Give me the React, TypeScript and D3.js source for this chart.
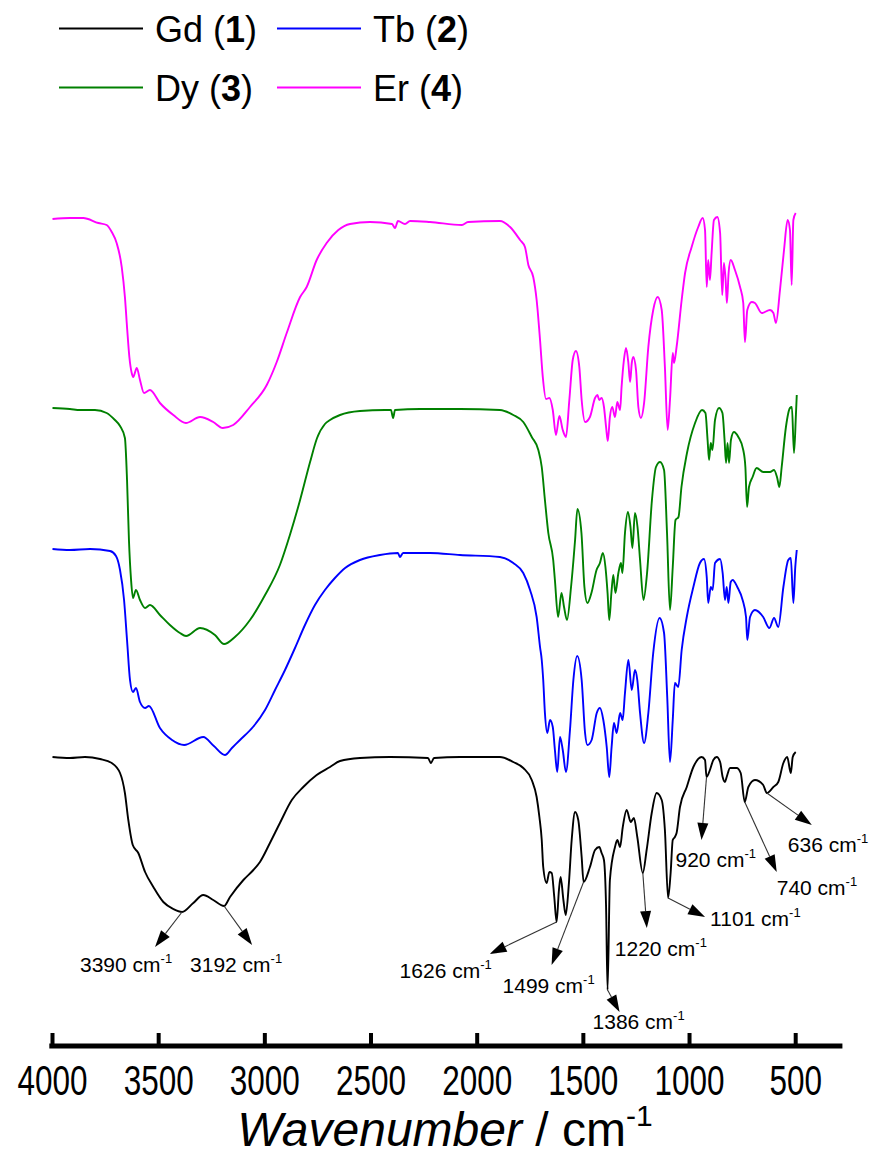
import React from 'react';
import * as d3 from 'd3';

// FT-IR spectra of the four lanthanide complexes, stacked (transmittance, a.u.)
// Each entry: [wavenumber in cm^-1, stacked transmittance]
const gdSpectrum: [number, number][] = [
  [4000,289],[3918,288],[3847,289],[3776,287],[3721,283],[3682,273],[3659,253],[3643,226],[3622,201],[3596,193],
  [3564,174],[3525,159],[3478,144],[3431,137],[3390,134],[3337,143],[3290,151],[3243,146],[3192,140],[3164,149],
  [3101,166],[3054,176],[3023,184],[2976,203],[2929,223],[2873,246],[2819,259],[2756,271],[2693,279],[2646,285],
  [2552,288],[2411,289],[2232,288],[2218,283],[2203,288],[2081,289],[1893,289],[1830,284],[1783,278],[1743,266],
  [1720,249],[1707,229],[1696,206],[1689,179],[1673,163],[1660,174],[1649,173],[1637,149],[1626,124],[1615,156],
  [1607,169],[1594,146],[1583,131],[1568,163],[1555,206],[1539,234],[1524,226],[1508,189],[1499,164],[1469,179],
  [1445,196],[1425,199],[1414,193],[1403,186],[1393,139],[1386,56],[1375,166],[1351,199],[1340,206],[1327,199],
  [1315,218],[1296,236],[1277,224],[1262,228],[1246,209],[1220,173],[1202,196],[1178,233],[1155,253],[1131,246],
  [1116,216],[1101,148],[1089,173],[1079,206],[1069,209],[1061,213],[1045,239],[1013,259],[982,279],[943,289],
  [927,286],[920,269],[904,276],[888,286],[872,289],[856,284],[844,269],[833,264],[825,269],[809,278],
  [778,278],[759,273],[740,244],[723,259],[692,266],[653,261],[636,253],[605,259],[582,264],[558,283],
  [540,289],[523,273],[514,289],[500,294],
];

const tbSpectrum: [number, number][] = [
  [4000,497],[3918,496],[3823,497],[3729,495],[3701,490],[3682,476],[3663,446],[3649,406],[3635,366],[3621,354],
  [3607,358],[3588,344],[3564,338],[3546,340],[3494,318],[3437,306],[3380,301],[3290,309],[3240,300],[3188,291],
  [3155,298],[3117,306],[3056,319],[2999,336],[2952,356],[2905,376],[2858,398],[2811,421],[2764,441],[2717,456],
  [2670,468],[2622,478],[2552,486],[2458,491],[2373,493],[2364,489],[2349,493],[2222,493],[2081,491],[1893,489],
  [1830,483],[1783,473],[1751,456],[1720,429],[1704,399],[1696,386],[1689,366],[1681,333],[1670,313],[1657,326],
  [1644,319],[1634,296],[1623,274],[1610,309],[1597,296],[1582,274],[1563,316],[1547,366],[1529,390],[1508,366],
  [1492,313],[1481,301],[1461,306],[1437,333],[1422,338],[1406,326],[1390,299],[1378,269],[1367,299],[1356,323],
  [1343,313],[1327,333],[1315,326],[1304,353],[1288,386],[1272,356],[1257,376],[1246,366],[1233,333],[1214,303],
  [1194,333],[1171,393],[1141,428],[1120,413],[1105,349],[1092,284],[1079,326],[1069,363],[1053,359],[1037,396],
  [1013,429],[982,459],[951,483],[932,487],[919,469],[912,443],[900,459],[891,456],[880,483],[856,487],
  [844,473],[833,446],[825,459],[817,443],[806,464],[797,466],[775,459],[750,446],[734,429],[728,406],
  [715,429],[692,436],[653,429],[624,418],[602,428],[582,419],[558,459],[535,486],[523,488],[511,443],
  [502,479],[495,496],
];

const dySpectrum: [number, number][] = [
  [4000,638],[3918,637],[3870,636],[3800,636],[3745,633],[3706,626],[3682,620],[3659,608],[3649,566],[3640,506],
  [3630,466],[3621,448],[3607,456],[3588,446],[3564,438],[3541,441],[3494,431],[3447,421],[3400,413],[3371,410],
  [3305,418],[3235,411],[3192,402],[3141,409],[3070,426],[2999,451],[2929,481],[2882,511],[2834,546],[2787,584],
  [2754,608],[2717,622],[2693,626],[2646,631],[2552,635],[2434,636],[2406,636],[2396,628],[2387,636],[2269,637],
  [2081,637],[1893,636],[1830,631],[1783,624],[1743,609],[1712,596],[1696,579],[1681,546],[1665,513],[1642,486],
  [1634,466],[1619,429],[1603,453],[1591,439],[1577,426],[1558,459],[1539,506],[1528,537],[1509,513],[1495,459],
  [1481,443],[1462,453],[1438,476],[1422,483],[1408,493],[1396,479],[1386,453],[1378,426],[1368,453],[1359,471],
  [1349,453],[1335,473],[1323,483],[1316,473],[1304,513],[1290,534],[1278,519],[1269,498],[1257,533],[1245,519],
  [1233,486],[1217,446],[1200,473],[1177,546],[1158,579],[1139,584],[1120,576],[1106,513],[1092,436],[1079,479],
  [1066,526],[1052,529],[1038,559],[1012,593],[974,623],[941,636],[925,633],[915,606],[908,586],[900,603],
  [892,596],[880,626],[861,638],[845,633],[835,606],[828,583],[821,603],[814,583],[805,606],[791,614],
  [770,609],[747,596],[737,579],[729,539],[720,559],[703,569],[684,578],[653,574],[621,574],[602,576],
  [587,568],[577,559],[566,579],[546,619],[527,638],[518,639],[508,593],[499,631],[495,651],
];

const erSpectrum: [number, number][] = [
  [4000,827],[3918,828],[3855,828],[3784,823],[3745,821],[3721,814],[3698,803],[3674,779],[3659,749],[3648,716],
  [3638,689],[3627,673],[3620,669],[3603,678],[3588,666],[3569,653],[3541,656],[3494,643],[3431,631],[3372,623],
  [3305,629],[3243,624],[3198,618],[3149,621],[3070,639],[2991,661],[2944,684],[2897,713],[2834,749],[2803,759],
  [2756,786],[2709,803],[2654,816],[2599,822],[2505,824],[2401,822],[2387,818],[2373,825],[2340,822],[2316,825],
  [2222,824],[2072,821],[2043,824],[1893,825],[1845,819],[1798,806],[1775,799],[1759,781],[1736,769],[1720,746],
  [1704,706],[1691,669],[1676,647],[1660,648],[1644,636],[1629,611],[1613,630],[1597,616],[1582,609],[1566,646],
  [1550,686],[1535,695],[1519,679],[1508,646],[1492,624],[1469,629],[1445,648],[1434,651],[1425,646],[1414,648],
  [1403,639],[1393,619],[1385,605],[1375,629],[1364,639],[1351,629],[1340,644],[1327,636],[1320,659],[1309,686],
  [1299,698],[1288,683],[1280,664],[1272,683],[1265,689],[1252,676],[1241,639],[1229,628],[1214,643],[1194,699],
  [1171,736],[1150,749],[1131,736],[1116,679],[1103,616],[1092,646],[1079,693],[1073,683],[1061,699],[1037,746],
  [1021,773],[990,799],[959,819],[938,828],[927,816],[919,759],[912,786],[904,766],[896,793],[885,826],
  [869,829],[856,813],[846,751],[838,783],[830,766],[824,743],[816,773],[806,786],[786,776],[762,759],
  [747,743],[739,704],[728,736],[707,744],[692,743],[660,733],[621,736],[605,733],[593,723],[574,756],
  [555,796],[538,826],[527,816],[519,761],[511,826],[500,833],
];

const seriesNames = ['Gd', 'Tb', 'Dy', 'Er'];
const seriesNumbers = ['1', '2', '3', '4'];
const seriesColors = ['#000000', '#0000ff', '#008000', '#ff00ff'];
const seriesData = [gdSpectrum, tbSpectrum, dySpectrum, erSpectrum];

const xTicks = [4000, 3500, 3000, 2500, 2000, 1500, 1000, 500];

// Band positions marked on the Gd spectrum
const bandPositions = [3390, 3192, 1626, 1499, 1386, 1220, 1101, 920, 740, 636];

// Arrow tip and label anchor offsets (px) from each band's point on the curve
const bandLayout: Record<number, { tip: [number, number]; label: [number, number] }> = {
  3390: { tip: [-27, 35], label: [-102, 60] },
  3192: { tip: [28, 39], label: [-34, 66] },
  1626: { tip: [-67, 32], label: [-157, 56] },
  1499: { tip: [-32, 83], label: [-81, 111] },
  1386: { tip: [12, 22], label: [-15, 39] },
  1220: { tip: [4, 55], label: [-28, 83] },
  1101: { tip: [37, 19], label: [42, 28] },
  920: { tip: [-5, 63], label: [-31, 90] },
  740: { tip: [32, 70], label: [32, 93] },
  636: { tip: [45, 32], label: [21, 59] },
};

const FONT = '"Liberation Sans", Arial, Helvetica, sans-serif';

export default function App() {
  const x = d3.scaleLinear().domain([4000, 500]).range([52.5, 795.7]);
  const y = d3.scaleLinear().domain([0, 850]).range([1046, 196]);
  const axisY = y(0);

  const line = d3
    .line<[number, number]>()
    .x((d) => x(d[0]))
    .y((d) => y(d[1]))
    .curve(d3.curveMonotoneX);

  const gdLookup = new Map(gdSpectrum.map((d) => [d[0], d[1]]));

  const arrows = bandPositions.map((wn) => {
    const sx = x(wn);
    const sy = y(gdLookup.get(wn) ?? 0);
    const lay = bandLayout[wn];
    const tx = sx + lay.tip[0];
    const ty = sy + lay.tip[1];
    const ang = Math.atan2(ty - sy, tx - sx);
    const headLen = 17;
    const headHalf = 5.5;
    const bx = tx - headLen * Math.cos(ang);
    const by = ty - headLen * Math.sin(ang);
    const px = -Math.sin(ang) * headHalf;
    const py = Math.cos(ang) * headHalf;
    return {
      wn,
      sx,
      sy,
      bx,
      by,
      head: `M${tx},${ty}L${bx + px},${by + py}L${bx - px},${by - py}Z`,
      lx: sx + lay.label[0],
      ly: sy + lay.label[1],
    };
  });

  return (
    <svg
      width={880}
      height={1156}
      viewBox="0 0 880 1156"
      style={{ position: 'absolute', left: 0, top: 0, display: 'block', background: '#fff' }}
      fontFamily={FONT}
    >
      <rect x={0} y={0} width={880} height={1156} fill="#fff" />

      {/* legend */}
      {seriesNames.map((name, i) => {
        const col = i % 2;
        const row = Math.floor(i / 2);
        const lx = 59 + col * 218;
        const ly = 28.5 + row * 59;
        return (
          <g key={name}>
            <line x1={lx} x2={lx + 84} y1={ly} y2={ly} stroke={seriesColors[i]} strokeWidth={2} />
            <text x={lx + 96} y={ly + 13} fontSize={36} fill="#000">
              {name} (<tspan fontWeight="bold">{seriesNumbers[i]}</tspan>)
            </text>
          </g>
        );
      })}

      {/* spectra */}
      {seriesData.map((data, i) => (
        <path
          key={seriesNames[i]}
          d={line(data) ?? ''}
          fill="none"
          stroke={seriesColors[i]}
          strokeWidth={1.9}
          strokeLinejoin="round"
        />
      ))}

      {/* band annotations on the Gd spectrum */}
      {arrows.map((a) => (
        <g key={a.wn}>
          <line x1={a.sx} y1={a.sy} x2={a.bx} y2={a.by} stroke="#333" strokeWidth={1.1} />
          <path d={a.head} fill="#000" />
          <text x={a.lx} y={a.ly} fontSize={21} fill="#000">
            {`${a.wn} cm`}
            <tspan dy={-9} fontSize={13}>-1</tspan>
          </text>
        </g>
      ))}

      {/* x axis */}
      <line x1={x(4015)} x2={x(280)} y1={axisY} y2={axisY} stroke="#000" strokeWidth={5} />
      {xTicks.map((t) => (
        <g key={t}>
          <line x1={x(t)} x2={x(t)} y1={axisY} y2={axisY - 13} stroke="#000" strokeWidth={4} />
          <g transform={`translate(${x(t)},${axisY + 49}) scale(0.75,1)`}>
            <text textAnchor="middle" fontSize={42} fill="#000">
              {t}
            </text>
          </g>
        </g>
      ))}
      <text x={445} y={axisY + 100} textAnchor="middle" fontSize={48} fill="#000">
        <tspan fontStyle="italic">Wavenumber</tspan>
        <tspan> / cm</tspan>
        <tspan dy={-20} fontSize={30}>-1</tspan>
      </text>
    </svg>
  );
}
